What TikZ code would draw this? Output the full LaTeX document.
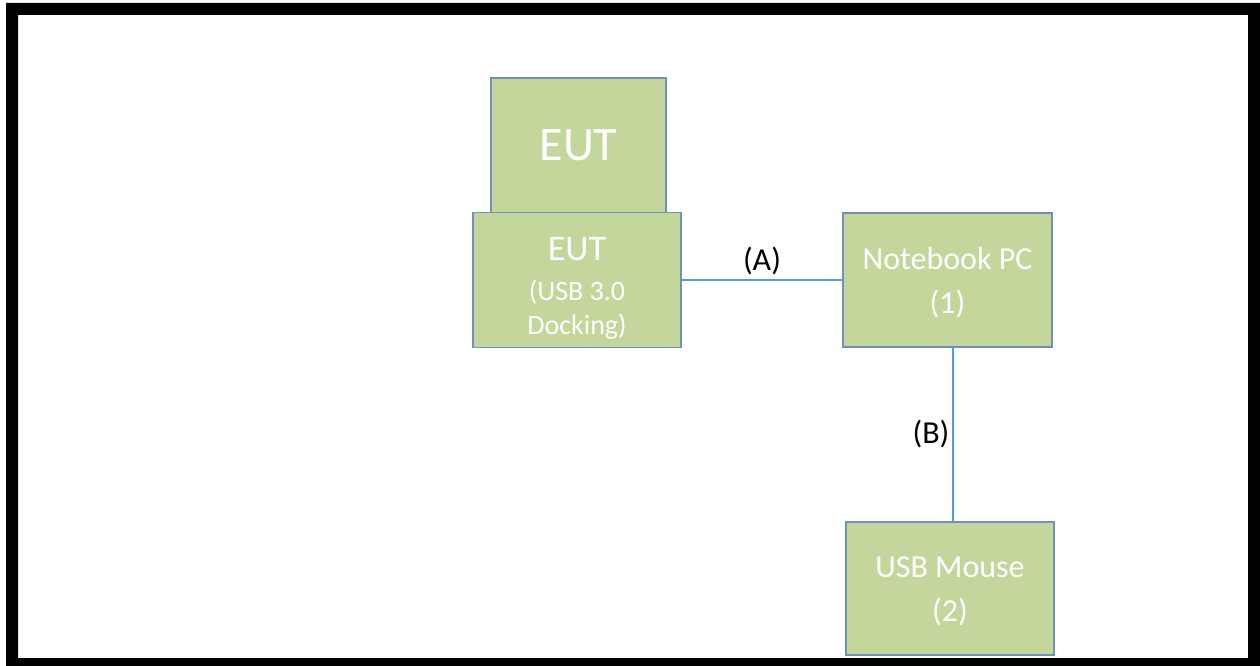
\documentclass[tikz,border=0pt]{standalone}
\usepackage{fontspec}
\setmainfont{Carlito}
\usepackage{tikz}
\definecolor{boxgreen}{HTML}{C3D69B}
\definecolor{boxedge}{HTML}{7090B8}
\definecolor{wire}{HTML}{5B9BD5}

\begin{document}
\begin{tikzpicture}[x=1pt, y=-1pt,
		device/.style = {shape=rectangle, draw=boxedge, line width=1.5pt, fill=boxgreen,
	text=white, align=center, inner sep=0pt},
		link/.style = {draw=wire, line width=1.2pt},
		tag/.style = {text=black, inner sep=0pt, font=\fontsize{32}{38}\selectfont}]
			\useasboundingbox (0,0) rectangle (1260,666);
			\fill[black, even odd rule] (6,3) rectangle (1260,666) (18,15) rectangle (1248,658);
			\node[device, minimum width=175, minimum height=135, font=\fontsize{48}{56}\selectfont] (eut) at (578.5,145.5) {EUT};
			\node[device, minimum width=208, minimum height=135, font=\fontsize{28}{34}\selectfont] (dock) at (577,280)
			{\rule{0pt}{40pt}{\fontsize{36}{42}\selectfont EUT}\\[6pt] (USB 3.0\\ Docking)};
			\node[device, minimum width=209, minimum height=134, font=\fontsize{32}{44}\selectfont] (pc) at (947.5,280) {\rule{0pt}{27pt}Notebook PC \\ (1)};
			\node[device, minimum width=208, minimum height=133, font=\fontsize{32}{44}\selectfont] (mouse) at (950,588.5) {\rule{0pt}{27pt}USB Mouse \\ (2)};
			\draw[link] (dock) -- node[tag, above=4pt] (labA) {(A)} (pc);
			\draw[link] ([xshift=3pt]pc.south -| mouse.north) -- node[tag, left=3pt] (labB) {(B)} ([xshift=3pt]mouse.north);
		\end{tikzpicture}
\end{document}
